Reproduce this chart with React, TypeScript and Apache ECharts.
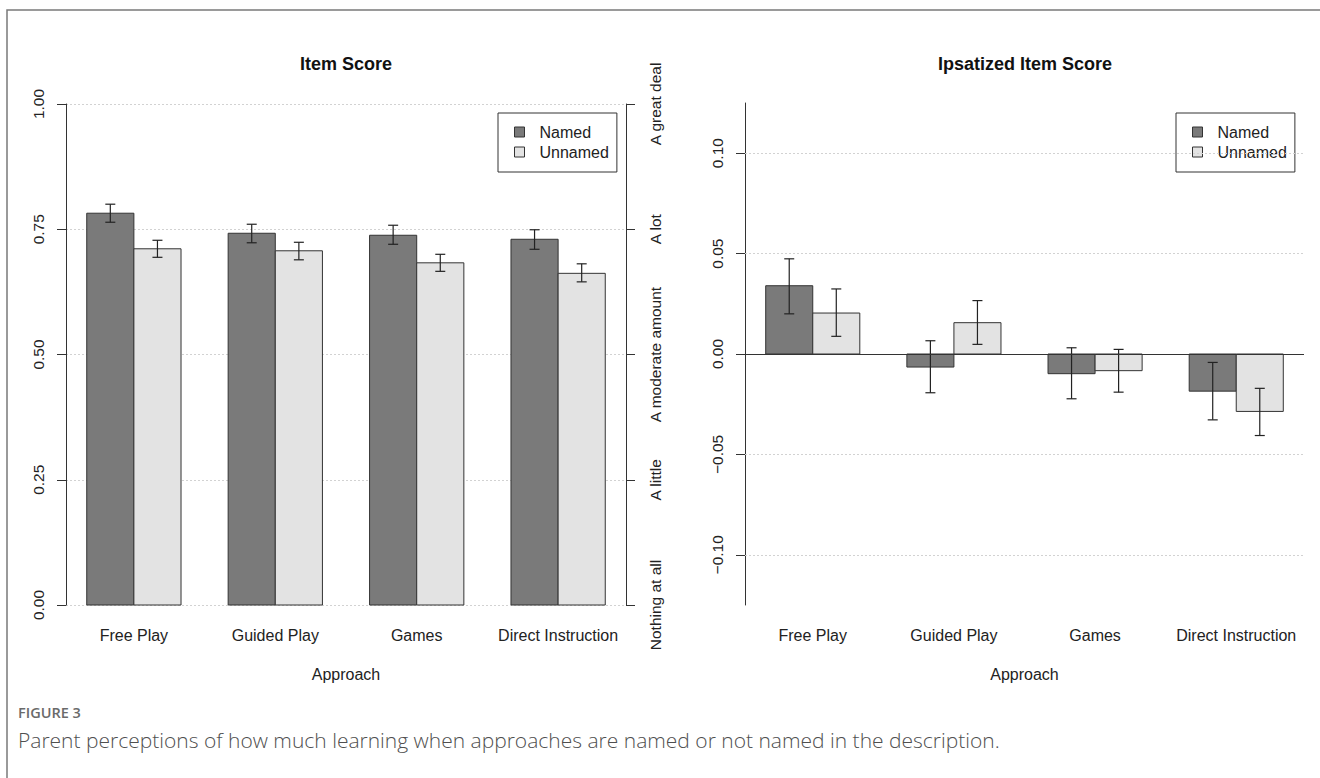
import React, { useEffect, useRef } from "react";
import * as echarts from "echarts";

// ---------- data ----------
const categories = ["Free Play", "Guided Play", "Games", "Direct Instruction"];
const categoryCenters = [2, 5, 8, 11];

const itemNamed = [0.782, 0.742, 0.738, 0.73];
const itemNamedLo = [0.764, 0.723, 0.72, 0.71];
const itemNamedHi = [0.8, 0.76, 0.758, 0.749];
const itemUnnamed = [0.711, 0.707, 0.683, 0.662];
const itemUnnamedLo = [0.694, 0.689, 0.666, 0.645];
const itemUnnamedHi = [0.728, 0.724, 0.7, 0.681];

const ipsNamed = [0.034, -0.0065, -0.0098, -0.0185];
const ipsNamedLo = [0.02, -0.0193, -0.0223, -0.0328];
const ipsNamedHi = [0.0474, 0.0066, 0.0031, -0.0042];
const ipsUnnamed = [0.0204, 0.0156, -0.0083, -0.0286];
const ipsUnnamedLo = [0.0088, 0.0048, -0.019, -0.0406];
const ipsUnnamedHi = [0.0324, 0.0266, 0.0023, -0.0171];

const itemTicks = [0, 0.25, 0.5, 0.75, 1];
const levelLabels = ["Nothing at all", "A little", "A moderate amount", "A lot", "A great deal"];
const ipsTicks = [-0.1, -0.05, 0, 0.05, 0.1];
const ipsGrid = [-0.1, -0.05, 0.05, 0.1];

const seriesNames = ["Named", "Unnamed"];
const FONT = "'Liberation Sans', Arial, Helvetica, sans-serif";
const DARK = "#7a7a7a";
const LIGHT = "#e3e3e3";

function barSeries(name: string, vals: number[], off: number, color: string, xi: number, yi: number) {
  return {
    type: "custom",
    name,
    xAxisIndex: xi,
    yAxisIndex: yi,
    z: 3,
    itemStyle: { color, borderColor: "#333", borderWidth: 1 },
    data: vals.map((v, i) => [i, v]),
    encode: { x: 0, y: 1 },
    renderItem: (_p: any, api: any) => {
      const i = api.value(0);
      const v = api.value(1);
      const x0 = 1 + 3 * i + off;
      const a = api.coord([x0, 0]);
      const b = api.coord([x0 + 1, v]);
      return {
        type: "rect",
        shape: { x: a[0], y: Math.min(a[1], b[1]), width: b[0] - a[0], height: Math.abs(b[1] - a[1]) },
        style: { fill: color, stroke: "#333", lineWidth: 1 },
      };
    },
  };
}

function errSeries(name: string, lo: number[], hi: number[], off: number, xi: number, yi: number) {
  return {
    type: "custom",
    name,
    xAxisIndex: xi,
    yAxisIndex: yi,
    z: 4,
    data: lo.map((l, i) => [i, l, hi[i]]),
    encode: { x: 0, y: [1, 2] },
    renderItem: (_p: any, api: any) => {
      const i = api.value(0);
      const xc = 1.5 + 3 * i + off;
      const p1 = api.coord([xc, api.value(1)]);
      const p2 = api.coord([xc, api.value(2)]);
      const cw = 5;
      const st = { stroke: "#222", lineWidth: 1.2 };
      return {
        type: "group",
        children: [
          { type: "line", shape: { x1: p1[0], y1: p1[1], x2: p2[0], y2: p2[1] }, style: st },
          { type: "line", shape: { x1: p1[0] - cw, y1: p1[1], x2: p1[0] + cw, y2: p1[1] }, style: st },
          { type: "line", shape: { x1: p2[0] - cw, y1: p2[1], x2: p2[0] + cw, y2: p2[1] }, style: st },
        ],
      };
    },
  };
}

function xAxisFor(gridIndex: number) {
  return {
    type: "value",
    gridIndex,
    min: 0.56,
    max: 12.44,
    axisLine: { show: false },
    axisTick: { show: false },
    splitLine: { show: false },
    axisLabel: {
      customValues: categoryCenters,
      formatter: (v: number) => categories[categoryCenters.indexOf(Math.round(v))] ?? "",
      color: "#222",
      fontSize: 16,
      fontFamily: FONT,
      margin: 22,
    },
    name: "Approach",
    nameLocation: "middle",
    nameGap: 61,
    nameTextStyle: { color: "#222", fontSize: 16, fontFamily: FONT },
  };
}

function legendFor(left: number) {
  return {
    left,
    top: 113,
    orient: "vertical",
    data: seriesNames,
    icon: "rect",
    itemWidth: 10,
    itemHeight: 10,
    itemGap: 4,
    padding: [11, 8, 12, 16],
    borderColor: "#333",
    borderWidth: 1,
    backgroundColor: "#fff",
    itemStyle: { borderColor: "#333", borderWidth: 1 },
    textStyle: { color: "#222", fontSize: 16, fontFamily: FONT, padding: [0, 0, 0, 10] },
    selectedMode: false,
  };
}

export default function App() {
  const ref = useRef<HTMLDivElement>(null);
  useEffect(() => {
    if (!ref.current) return;
    const chart = echarts.init(ref.current, null, { renderer: "svg" });
    const option: any = {
      animation: false,
      backgroundColor: "#fff",
      textStyle: { fontFamily: FONT },
      title: [
        {
          text: "Item Score",
          left: 346,
          top: 55,
          textAlign: "center",
          padding: 0,
          textStyle: { fontSize: 18, fontWeight: "bold", color: "#111", fontFamily: FONT },
        },
        {
          text: "Ipsatized Item Score",
          left: 1025,
          top: 55,
          textAlign: "center",
          padding: 0,
          textStyle: { fontSize: 18, fontWeight: "bold", color: "#111", fontFamily: FONT },
        },
      ],
      legend: [legendFor(498), legendFor(1176)],
      grid: [
        { left: 66, width: 560, top: 104, height: 501 },
        { left: 745, width: 559, top: 103, height: 502 },
      ],
      xAxis: [xAxisFor(0), xAxisFor(1)],
      yAxis: [
        {
          type: "value",
          gridIndex: 0,
          min: 0,
          max: 1,
          interval: 0.25,
          axisLine: { show: true, lineStyle: { color: "#333", width: 1 } },
          axisTick: { show: true, length: 9, lineStyle: { color: "#333" } },
          axisLabel: {
            rotate: 90,
            margin: 20,
            fontSize: 15.5,
            color: "#222",
            fontFamily: FONT,
            formatter: (v: number) => v.toFixed(2),
          },
          splitLine: { show: true, lineStyle: { color: "#d2d2d2", type: [2, 2], width: 1.2 } },
        },
        {
          type: "value",
          gridIndex: 0,
          position: "right",
          min: 0,
          max: 1,
          interval: 0.25,
          axisLine: { show: true, lineStyle: { color: "#333", width: 1 } },
          axisTick: { show: true, length: 9, lineStyle: { color: "#333" } },
          axisLabel: {
            rotate: 90,
            margin: 21,
            fontSize: 15.5,
            color: "#222",
            fontFamily: FONT,
            formatter: (v: number) => levelLabels[itemTicks.indexOf(v)] ?? "",
          },
          splitLine: { show: false },
        },
        {
          type: "value",
          gridIndex: 1,
          min: -0.125,
          max: 0.125,
          axisLine: { show: true, lineStyle: { color: "#333", width: 1 } },
          axisTick: { show: true, length: 9, customValues: ipsTicks, lineStyle: { color: "#333" } },
          axisLabel: {
            customValues: ipsTicks,
            rotate: 90,
            margin: 20,
            fontSize: 15.5,
            color: "#222",
            fontFamily: FONT,
            formatter: (v: number) => (v < 0 ? "\u2212" + Math.abs(v).toFixed(2) : v.toFixed(2)),
          },
          splitLine: { show: false },
        },
      ],
      series: [
        {
          type: "line",
          name: "grid-ips",
          xAxisIndex: 1,
          yAxisIndex: 2,
          data: [],
          z: 1,
          markLine: {
            silent: true,
            symbol: "none",
            label: { show: false },
            data: [
              ...ipsGrid.map((v) => ({ yAxis: v, lineStyle: { color: "#d2d2d2", type: [2, 2], width: 1.2 } })),
              { yAxis: 0, lineStyle: { color: "#333", type: "solid", width: 1.2 }, z: 6 },
            ],
          },
        },
        barSeries("Named", itemNamed, 0, DARK, 0, 0),
        barSeries("Unnamed", itemUnnamed, 1, LIGHT, 0, 0),
        errSeries("Named CI", itemNamedLo, itemNamedHi, 0, 0, 0),
        errSeries("Unnamed CI", itemUnnamedLo, itemUnnamedHi, 1, 0, 0),
        barSeries("Named", ipsNamed, 0, DARK, 1, 2),
        barSeries("Unnamed", ipsUnnamed, 1, LIGHT, 1, 2),
        errSeries("Named CI", ipsNamedLo, ipsNamedHi, 0, 1, 2),
        errSeries("Unnamed CI", ipsUnnamedLo, ipsUnnamedHi, 1, 1, 2),
      ],
      graphic: [
        {
          type: "rect",
          shape: { x: 7, y: 10, width: 1340, height: 800 },
          style: { fill: "none", stroke: "#7a7a7a", lineWidth: 1.5 },
          silent: true,
        },
        {
          type: "text",
          x: 18,
          y: 712,
          style: {
            text: "FIGURE 3",
            fill: "#6a6a6a",
            font: "600 14.5px 'Open Sans', Lato, sans-serif",
            verticalAlign: "middle",
          },
        },
        {
          type: "text",
          x: 18,
          y: 740,
          style: {
            text: "Parent perceptions of how much learning when approaches are named or not named in the description.",
            fill: "#4f4f4f",
            font: "300 21px 'Open Sans', Lato, sans-serif",
            verticalAlign: "middle",
          },
        },
      ],
    };
    chart.setOption(option);
    return () => chart.dispose();
  }, []);
  return (
    <div
      ref={ref}
      style={{ position: "fixed", left: 0, top: 0, width: 1320, height: 778, background: "#fff" }}
    />
  );
}
